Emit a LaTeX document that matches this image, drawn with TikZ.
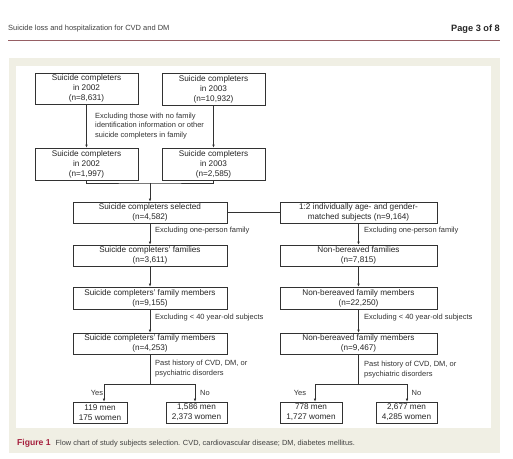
\documentclass[tikz,border=0pt]{standalone}
\usepackage{fontspec}
\setmainfont{Liberation Sans}
\usetikzlibrary{arrows.meta}
\definecolor{panelbg}{RGB}{240,239,228}
\definecolor{rulered}{RGB}{150,95,100}
\definecolor{figred}{RGB}{165,30,60}
\definecolor{boxline}{RGB}{50,50,50}
\tikzset{
  flowbox/.style={draw=boxline, line width=0.7pt, align=center, inner sep=0pt,
    font=\fontsize{8.2}{10}\selectfont, text=black!85},
  note/.style={anchor=west, align=left, inner sep=0pt,
    font=\fontsize{7.5}{9.3}\selectfont, text=black!80},
  flow/.style={draw=boxline, line width=0.7pt},
  flowarrow/.style={flow, -{Latex[length=3pt,width=2.6pt]}}
}

\begin{document}
\begin{tikzpicture}[x=1pt, y=-1pt]
    \useasboundingbox (0,0) rectangle (513,458);
    % page and figure panel
    \fill[panelbg] (9,58) rectangle (500,453);
    \fill[white] (16,66) rectangle (491,428);
    \draw[rulered, line width=0.6pt] (8,40) -- (500,40);
    \node[anchor=west, inner sep=0pt, font=\fontsize{7.5}{8}\selectfont, text=black!75] (runhead) at (8,29)
        {Suicide loss and hospitalization for CVD and DM};
    \node[anchor=east, inner sep=0pt, font=\fontsize{9.2}{11}\selectfont\bfseries, text=black!85] (pagenum) at (500,29)
        {Page 3 of 8};
    % boxes
    \foreach \n/\x/\y/\w/\h/\lab in {
        a1/86.5/88.5/103/31/{Suicide completers\\in 2002\\(n=8,631)},
        a2/213.5/89/103/32/{Suicide completers\\in 2003\\(n=10,932)},
        b1/86.5/164/103/32/{Suicide completers\\in 2002\\(n=1,997)},
        b2/213.5/164/103/32/{Suicide completers\\in 2003\\(n=2,585)},
        c/150/212.5/154/21/{Suicide completers selected\\(n=4,582)},
        d/358.5/212.5/157/21/{1:2 individually age- and gender-\\matched subjects (n=9,164)},
        e/150/255.5/154/21/{Suicide completers' families\\(n=3,611)},
        f/358.5/255.5/157/21/{Non-bereaved families\\(n=7,815)},
        g/150/298/154/22/{Suicide completers' family members\\(n=9,155)},
        h/358.5/298/157/22/{Non-bereaved family members\\(n=22,250)},
        i/150/343.5/154/21/{Suicide completers' family members\\(n=4,253)},
        j/358.5/343.5/157/21/{Non-bereaved family members\\(n=9,467)},
        k1/100/412.5/54/21/{119 men\\175 women},
        k2/196.5/412.5/61/21/{1,586 men\\2,373 women},
        k3/311/412.5/62/21/{778 men\\1,727 women},
        k4/406.5/412.5/61/21/{2,677 men\\4,285 women}} {
        \node[flowbox, minimum width=\w, minimum height=\h] (\n) at (\x,\y) {\lab};
    }
    % notes beside the arrows
    \foreach \n/\x/\y/\lab in {
        x1/95/126/{Excluding those with no family\\identification information or other\\suicide completers in family},
        x2/155/231/{Excluding one-person family},
        x3/364/231/{Excluding one-person family},
        x4/155/318/{Excluding < 40 year-old subjects},
        x5/364/318/{Excluding < 40 year-old subjects},
        x6/155/368.7/{Past history of CVD, DM, or\\psychiatric disorders},
        x7/364/369.5/{Past history of CVD, DM, or\\psychiatric disorders}} {
        \node[note] (\n) at (\x,\y) {\lab};
    }
    \foreach \n/\x/\lab in {y1/97/Yes, y2/205/No, y3/300/Yes, y4/416.5/No} {
        \node[note, anchor=center] (\n) at (\x,393) {\lab};
    }
    % connectors
    \draw[flowarrow] (a1) -- (b1);
    \draw[flowarrow] (a2) -- (b2);
    \coordinate (merge) at (150,183);
    \draw[flow] (b1.south) |- (merge) -| (b2.south);
    \draw[flowarrow] (merge) -- (c);
    \draw[flow] (c) -- (d);
    \foreach \s/\t in {c/e, e/g, g/i, d/f, f/h, h/j} {
        \draw[flowarrow] (\s) -- (\t);
    }
    \foreach \s/\m/\xy/\xn/\ty/\tn in {i/150/104/195/k1/k2, j/358.5/315/407/k3/k4} {
        \coordinate (\s split) at (\m,384);
        \coordinate (\s yes) at (\xy,384);
        \coordinate (\s no) at (\xn,384);
        \draw[flow] (\s) -- (\s split);
        \draw[flow] (\s yes) -- (\s no);
        \draw[flowarrow] (\s yes) -- (\s yes |- \ty.north);
        \draw[flowarrow] (\s no) -- (\s no |- \tn.north);
    }
    % caption
    \node[anchor=west, inner sep=0pt, font=\fontsize{7.4}{8}\selectfont, text=black!75] (caption) at (17,443)
        {\textcolor{figred}{\fontsize{8.6}{9}\selectfont\bfseries Figure 1}\hspace{5pt}Flow chart of study subjects selection. CVD, cardiovascular disease; DM, diabetes mellitus.};
\end{tikzpicture}
\end{document}
